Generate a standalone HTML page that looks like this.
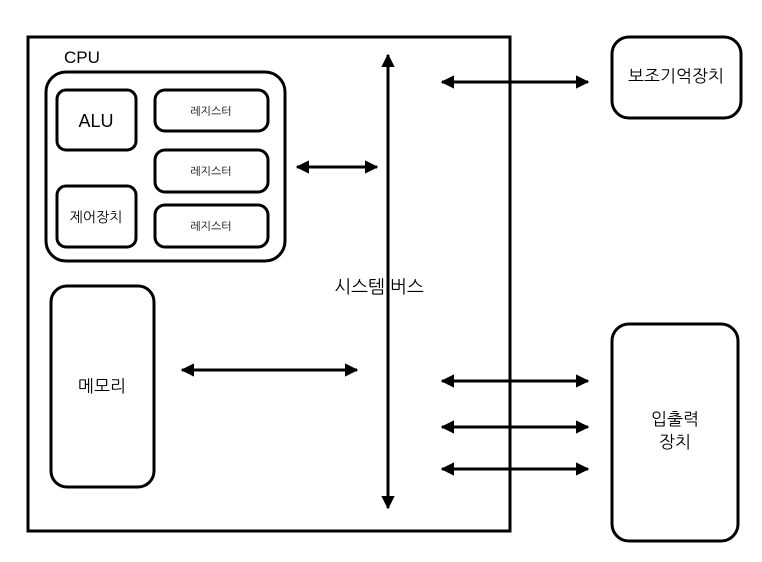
<!DOCTYPE html>
<html><head><meta charset="utf-8"><style>
html,body{margin:0;padding:0;background:#fff;}
svg text{font-family:"Liberation Sans","NanumGothic","Noto Sans CJK KR",sans-serif;fill:#000;}
</style></head><body>
<svg width="762" height="557" viewBox="0 0 762 557" xmlns="http://www.w3.org/2000/svg">
<defs>
<marker id="a" viewBox="0 0 10 10" refX="9" refY="5" markerWidth="4.5" markerHeight="4.5" orient="auto-start-reverse" markerUnits="strokeWidth">
<path d="M0,0 L10,5 L0,10 Z" fill="#000"/></marker>
</defs>
<g fill="none" stroke="#000" stroke-width="3">
<rect x="28" y="37" width="482" height="494"/>
<rect x="46" y="72" width="239" height="189" rx="20"/>
<rect x="57" y="90" width="79" height="60" rx="9"/>
<rect x="57" y="186" width="79" height="61" rx="9"/>
<rect x="155" y="90" width="113" height="41" rx="10"/>
<rect x="155" y="150" width="113" height="42" rx="10"/>
<rect x="155" y="205" width="113" height="42" rx="10"/>
<rect x="51" y="286" width="103" height="201" rx="16"/>
<rect x="612" y="37" width="129" height="81" rx="17"/>
<rect x="612" y="324" width="126" height="217" rx="17"/>
</g>
<g stroke="#000" stroke-width="3" marker-start="url(#a)" marker-end="url(#a)">
<line x1="388" y1="55" x2="388" y2="508"/>
<line x1="442" y1="82" x2="588" y2="82"/>
<line x1="297" y1="167" x2="377" y2="167"/>
<line x1="182" y1="370" x2="357" y2="370"/>
<line x1="442" y1="381" x2="588" y2="381"/>
<line x1="442" y1="427" x2="588" y2="427"/>
<line x1="442" y1="469" x2="588" y2="469"/>
</g>
<text x="64" y="63" font-size="17">CPU</text>
<text x="96" y="127" font-size="18" text-anchor="middle">ALU</text>
<text x="96" y="222" font-size="14" text-anchor="middle">제어장치</text>
<text x="211" y="115" font-size="11" text-anchor="middle">레지스터</text>
<text x="211" y="175" font-size="11" text-anchor="middle">레지스터</text>
<text x="211" y="230" font-size="11" text-anchor="middle">레지스터</text>
<text x="102" y="392" font-size="17" text-anchor="middle">메모리</text>
<text x="379" y="293" font-size="18" text-anchor="middle">시스템 버스</text>
<text x="676" y="82" font-size="17" text-anchor="middle">보조기억장치</text>
<text x="675" y="425" font-size="17" text-anchor="middle">입출력</text>
<text x="675" y="448" font-size="17" text-anchor="middle">장치</text>
</svg>
</body></html>
